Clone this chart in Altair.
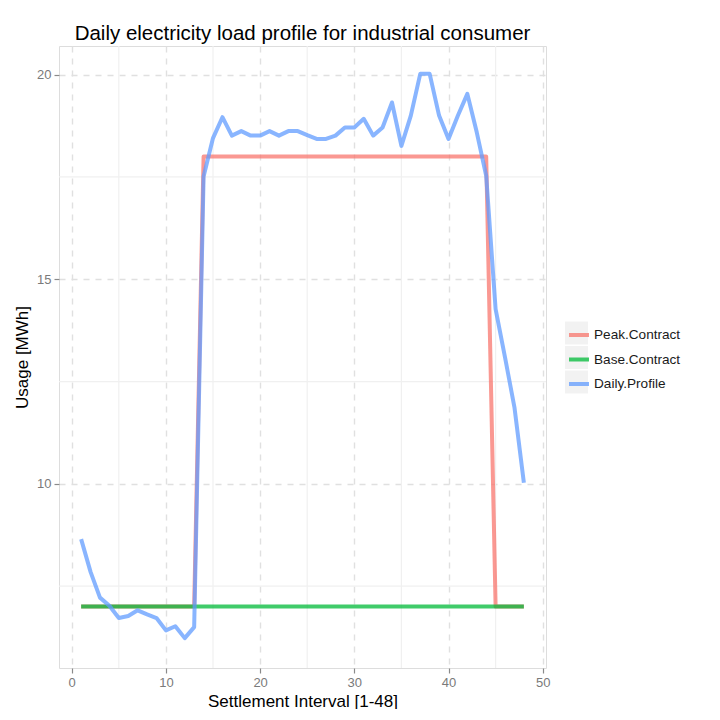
import altair as alt
import pandas as pd

intervals = list(range(1, 49))
daily_profile = [8.65, 7.85, 7.22, 7.02, 6.72, 6.77, 6.91, 6.81, 6.72, 6.42, 6.52, 6.23,
                 6.50, 17.51, 18.45, 18.96, 18.51, 18.62, 18.51, 18.51, 18.62, 18.51, 18.62, 18.62,
                 18.52, 18.43, 18.43, 18.51, 18.71, 18.71, 18.92, 18.51, 18.71, 19.32, 18.26, 19.00,
                 20.02, 20.02, 19.00, 18.43, 19.00, 19.53, 18.59, 17.53, 14.27, 13.09, 11.87, 10.03]
peak_contract = [7, 7, 7, 7, 7, 7, 7, 7, 7, 7, 7, 7,
                 7, 18, 18, 18, 18, 18, 18, 18, 18, 18, 18, 18,
                 18, 18, 18, 18, 18, 18, 18, 18, 18, 18, 18, 18,
                 18, 18, 18, 18, 18, 18, 18, 18, 7, 7, 7, 7]
base_contract = [7, 7, 7, 7, 7, 7, 7, 7, 7, 7, 7, 7,
                 7, 7, 7, 7, 7, 7, 7, 7, 7, 7, 7, 7,
                 7, 7, 7, 7, 7, 7, 7, 7, 7, 7, 7, 7,
                 7, 7, 7, 7, 7, 7, 7, 7, 7, 7, 7, 7]
series_names = ["Peak.Contract", "Base.Contract", "Daily.Profile"]
series_colors = ["#F8766D", "#00BA38", "#619CFF"]
key_names = ["key-Peak", "key-Base", "key-Daily"]
key_background = ["#f2f2f2", "#f2f2f2", "#f2f2f2"]
x_ticks = [0, 10, 20, 30, 40, 50]
y_ticks = [10, 15, 20]
minor_x = [5, 15, 25, 35, 45]
minor_y = [7.5, 12.5, 17.5]

rows = []
for name, vals in zip(series_names, [peak_contract, base_contract, daily_profile]):
    for i, v in zip(intervals, vals):
        rows.append({"series": name, "interval": i, "usage": v})
df = pd.DataFrame(rows)
keys_df = pd.DataFrame({"key": key_names, "interval": [1, 1, 1], "usage": [7, 7, 7]})

FONT = "Liberation Sans"
xscale = alt.Scale(domain=[-1.35, 50.35], nice=False, zero=False)
yscale = alt.Scale(domain=[5.5, 20.7], nice=False, zero=False)
cscale = alt.Scale(domain=series_names, range=series_colors)
kscale = alt.Scale(domain=key_names, range=key_background)

xaxis = alt.Axis(values=x_ticks, title="Settlement Interval [1-48]", grid=True,
                 gridDash=[6, 6], gridColor="#e0e0e0", gridWidth=1.4, domain=False,
                 tickColor="#8a8a8a", tickSize=5, tickWidth=1.2, labelPadding=3,
                 labelColor="#7a7a7a", labelFontSize=13, labelFont=FONT,
                 titleFont=FONT, titleFontSize=17, titleFontWeight="normal",
                 titleColor="#000000", titlePadding=4)
yaxis = alt.Axis(values=y_ticks, title="Usage [MWh]", grid=True,
                 gridDash=[6, 6], gridColor="#e0e0e0", gridWidth=1.4, domain=False,
                 tickColor="#8a8a8a", tickSize=5, tickWidth=1.2, labelPadding=3,
                 labelColor="#7a7a7a", labelFontSize=13, labelFont=FONT,
                 titleFont=FONT, titleFontSize=17, titleFontWeight="normal",
                 titleColor="#000000", titlePadding=5)

minor_x_rules = alt.Chart(pd.DataFrame({"x": minor_x})).mark_rule(
    color="#f0f0f0", strokeWidth=1.2
).encode(x=alt.X("x:Q", scale=xscale, axis=xaxis))

minor_y_rules = alt.Chart(pd.DataFrame({"y": minor_y})).mark_rule(
    color="#f0f0f0", strokeWidth=1.2
).encode(y=alt.Y("y:Q", scale=yscale, axis=yaxis))

line_legend = alt.Legend(orient="none", legendX=508, legendY=277, symbolType="stroke",
                         symbolSize=400, symbolStrokeWidth=4, symbolOpacity=0.75,
                         labelFont=FONT, labelFontSize=13.6, labelColor="#1a1a1a",
                         rowPadding=4.5, labelOffset=3, zindex=2)
key_legend = alt.Legend(orient="none", legendX=506, legendY=275.5, symbolType="square",
                        symbolSize=529, symbolStrokeWidth=0, symbolOpacity=1,
                        labelExpr="''", labelFontSize=13.6,
                        rowPadding=1.5, labelOffset=0, zindex=1)

key_layer = alt.Chart(keys_df).mark_square(size=1, opacity=0).encode(
    x=alt.X("interval:Q", scale=xscale, axis=xaxis),
    y=alt.Y("usage:Q", scale=yscale, axis=yaxis),
    fill=alt.Fill("key:N", scale=kscale, legend=key_legend, title=None),
)

def series_layer(name):
    return alt.Chart(df).transform_filter(
        alt.datum.series == name
    ).mark_line(strokeWidth=4, opacity=0.75, strokeJoin="round").encode(
        x=alt.X("interval:Q", scale=xscale, axis=xaxis),
        y=alt.Y("usage:Q", scale=yscale, axis=yaxis),
        color=alt.Color("series:N", scale=cscale, legend=line_legend, title=None),
    )

chart = alt.layer(
    minor_x_rules, minor_y_rules, key_layer,
    series_layer("Peak.Contract"), series_layer("Base.Contract"), series_layer("Daily.Profile"),
).properties(
    width=487, height=622,
    title=alt.TitleParams("Daily electricity load profile for industrial consumer",
                          font=FONT, fontSize=20.5, fontWeight="normal", color="#000000",
                          anchor="middle", offset=1),
    padding={"left": 5, "top": 15, "right": 5, "bottom": 0},
).configure_view(stroke=None).configure(background="#ffffff")

chart.save("out.html", embed_options={"renderer": "svg", "actions": False})
